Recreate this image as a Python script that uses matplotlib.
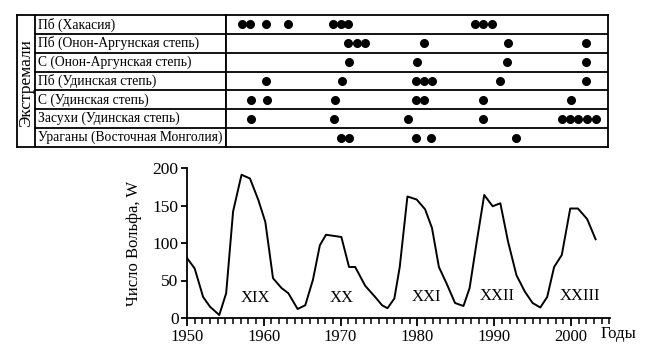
import matplotlib.pyplot as plt

plt.rcParams['font.family'] = ['Liberation Serif', 'DejaVu Serif']

# annual Wolf number
years = [1950.0, 1951.0, 1952.1, 1953.0, 1954.2, 1955.1, 1956.0, 1957.1, 1958.2, 1959.3,
         1960.2, 1961.2, 1962.3, 1963.2, 1964.4, 1965.4, 1966.4, 1967.3, 1968.1, 1970.1,
         1971.1, 1971.9, 1973.2, 1974.5, 1975.4, 1976.1, 1977.0, 1977.7, 1978.7, 1979.9,
         1981.0, 1981.9, 1982.8, 1983.8, 1984.9, 1986.0, 1986.8, 1987.7, 1988.7, 1989.8,
         1990.8, 1991.8, 1992.9, 1994.0, 1995.0, 1996.0, 1996.9, 1997.8, 1998.8, 1999.9,
         2000.9, 2002.1, 2003.2]
wolf = [80, 66, 28, 15, 4, 33, 142, 191, 186, 157,
        128, 53, 40, 33, 12, 17, 51, 97, 111, 108,
        68, 68, 43, 28, 17, 13, 26, 68, 162, 158,
        145, 120, 68, 46, 20, 16, 40, 100, 164, 149,
        153, 102, 57, 35, 20, 14, 28, 68, 84, 146,
        146, 132, 105]

cycle_names = ['XIX', 'XX', 'XXI', 'XXII', 'XXIII']
cycle_x = [1958.9, 1970.1, 1981.2, 1990.4, 2001.2]
cycle_y = [27, 27, 28, 29, 29]

# extreme events by region
rows = ['Пб (Хакасия)', 'Пб (Онон-Аргунская степь)', 'С (Онон-Аргунская степь)',
        'Пб (Удинская степь)', 'С (Удинская степь)', 'Засухи (Удинская степь)',
        'Ураганы (Восточная Монголия)']
events = [
    [1957.1, 1958.2, 1960.3, 1963.2, 1969.0, 1970.0, 1971.0, 1987.5, 1988.6, 1989.7],
    [1971.0, 1972.1, 1973.2, 1980.9, 1991.8, 2002.0],
    [1971.1, 1979.9, 1991.7, 2002.0],
    [1960.3, 1970.2, 1979.8, 1980.9, 1981.9, 1990.8, 2002.0],
    [1958.3, 1960.4, 1969.3, 1979.8, 1980.9, 1988.6, 2000.0],
    [1958.3, 1969.1, 1978.8, 1988.6, 1998.8, 1999.9, 2000.9, 2002.1, 2003.3],
    [1970.1, 1971.1, 1979.8, 1981.8, 1992.8],
]

W, H = 645, 350
fig = plt.figure(figsize=(W / 100, H / 100), dpi=100)


def box(x0, y0, x1, y1):
    return [x0 / W, 1 - y1 / H, (x1 - x0) / W, (y1 - y0) / H]


px_per_year = 7.68
x0_px = 187


def px_year(px):
    return 1950 + (px - x0_px) / px_per_year


# sunspot curve
ax = fig.add_axes(box(187, 168, 610, 318))
ax.plot(years, wolf, color='k', lw=1.4)
ax.set_xlim(1950, px_year(610))
ax.set_ylim(0, 200)
ax.spines['top'].set_visible(False)
ax.spines['right'].set_visible(False)
for s in ['left', 'bottom']:
    ax.spines[s].set_linewidth(1.3)
ax.set_xticks(range(1950, 2001, 10))
ax.set_xticks(range(1950, 2006), minor=True)
ax.set_yticks(range(0, 201, 50))
ax.tick_params(axis='x', which='major', length=6, width=1.3, labelsize=12, pad=2)
ax.tick_params(axis='x', which='minor', length=4, width=1.1)
ax.tick_params(axis='y', length=4, width=1.3, labelsize=12.5, pad=2)
ax.set_ylabel('Число Вольфа, W', fontsize=12, labelpad=8)
ax.text((601 - 187) / 423, -0.135, 'Годы', transform=ax.transAxes,
        ha='left', va='baseline', fontsize=12)
for name, cx, cy in zip(cycle_names, cycle_x, cycle_y):
    ax.text(cx, cy, name, ha='center', va='center', fontsize=12)

# table labels
top, bot = 15, 147
row_h = (bot - top) / len(rows)
ax_lab = fig.add_axes(box(17, top, 226, bot))
ax_lab.set_xlim(17, 226)
ax_lab.set_ylim(bot, top)
ax_lab.set_xticks([])
ax_lab.set_yticks([])
for s in ax_lab.spines.values():
    s.set_linewidth(1.3)
ax_lab.axvline(35, color='k', lw=1.3)
for i, name in enumerate(rows):
    if i > 0:
        ax_lab.plot([35, 226], [top + i * row_h] * 2, color='k', lw=1.3)
    ax_lab.text(38, top + (i + 0.5) * row_h, name, ha='left', va='center', fontsize=9.8)
ax_lab.text(26, (top + bot) / 2 + 2, 'Экстремали', rotation=90, ha='center', va='center',
            fontsize=12.5)

# event dots
ax_ev = fig.add_axes(box(226, top, 608, bot))
ax_ev.set_xlim(px_year(226), px_year(608))
ax_ev.set_ylim(len(rows), 0)
ax_ev.set_xticks([])
ax_ev.set_yticks([])
for s in ax_ev.spines.values():
    s.set_linewidth(1.3)
for i, ev in enumerate(events):
    if i > 0:
        ax_ev.axhline(i, color='k', lw=1.3)
    ax_ev.plot(ev, [i + 0.5] * len(ev), 'o', color='k', ms=6.5, mec='none')

fig.savefig('out.png', dpi=100)
